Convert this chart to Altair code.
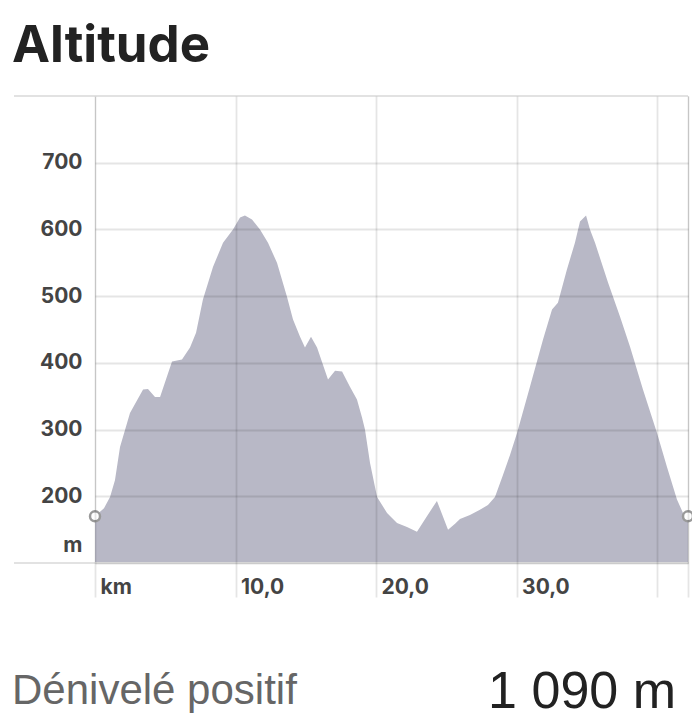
import altair as alt
import pandas as pd

# Elevation profile (km, m)
km = [0.00, 0.64, 1.07, 1.42, 1.78, 2.49, 3.42, 3.77, 4.27, 4.63, 5.48, 6.19, 6.76, 7.19,
      7.68, 8.40, 9.11, 9.82, 10.32, 10.67, 11.17, 11.74, 12.31, 12.95, 13.66, 14.09, 14.59,
      14.94, 15.37, 15.80, 16.58, 17.08, 17.58, 18.14, 18.64, 19.00, 19.21, 19.57, 20.07,
      20.78, 21.49, 22.20, 22.91, 23.55, 24.33, 25.12, 25.62, 25.97, 26.68, 27.39, 27.96,
      28.46, 29.03, 29.53, 30.03, 30.95, 31.88, 32.52, 32.94, 33.58, 34.15, 34.51, 34.94,
      35.22, 35.58, 36.51, 37.36, 38.07, 38.99, 39.99, 40.70, 41.41, 41.84, 42.195]
alt_m = [170, 182, 199, 224, 274, 325, 360, 361, 349, 349, 402, 405, 423, 445,
         495, 544, 580, 600, 618, 621, 615, 600, 580, 550, 499, 465, 439,
         423, 439, 423, 375, 388, 387, 364, 345, 318, 300, 250, 199,
         175, 160, 154, 147, 168, 193, 150, 159, 166, 172, 180, 187,
         199, 232, 262, 295, 364, 435, 480, 490, 540, 580, 612, 621,
         600, 580, 520, 469, 424, 360, 295, 244, 195, 175, 170]

x_ticks = [0, 10, 20, 30, 40, 42.195]
y_ticks = [100, 200, 300, 400, 500, 600, 700]
frame_levels = [100, 800]

stat_label = "Dénivelé positif"
stat_value = "1 090 m"

df = pd.DataFrame({"km": km, "alt": alt_m})
ends = df.iloc[[0, -1]]
frame_df = pd.DataFrame({"lvl": frame_levels})
stat_df = pd.DataFrame({"label": [stat_label], "value": [stat_value]})

W, H = 593, 467

xscale = alt.Scale(domain=[0, 42.195], nice=False, zero=False)
yscale = alt.Scale(domain=[100, 800], nice=False, zero=False)

xaxis = alt.Axis(
    values=x_ticks, title=None, grid=True, domain=False, ticks=True, tickSize=34,
    tickColor="black", tickOpacity=0.1, tickWidth=1.8,
    gridColor="black", gridOpacity=0.1, gridWidth=1.8,
    labelAlign="left", labelBaseline="alphabetic", labelPadding=-4, labelOffset=5,
    labelFont="Inter", labelFontSize=21, labelFontWeight="bold", labelColor="#444",
    labelExpr="datum.value == 0 ? 'km' : (datum.value >= 40 ? '' : replace(format(datum.value, '.1f'), '.', ','))",
    zindex=1,
)
yaxis = alt.Axis(
    values=y_ticks, title=None, grid=True, domain=False, ticks=False, labelPadding=13,
    gridColor="black", gridOpacity=0.1, gridWidth=1.8,
    labelFont="Inter", labelFontSize=21, labelFontWeight="bold", labelColor="#444",
    labelExpr="datum.value == 100 ? 'm' : datum.label",
    labelOffset={"condition": {"test": "datum.value == 100", "value": -18}, "value": 0},
    zindex=1,
)

area = alt.Chart(df).mark_area(color="#b8b8c6", opacity=1).encode(
    x=alt.X("km:Q", scale=xscale, axis=xaxis),
    y=alt.Y("alt:Q", scale=yscale, axis=yaxis),
    y2=alt.datum(100),
)

frame = alt.Chart(frame_df).mark_rule(color="#e2e2e2", strokeWidth=1.8).encode(
    y=alt.Y("lvl:Q", scale=yscale, axis=yaxis),
    x=alt.value(-81), x2=alt.value(W),
)

pts = alt.Chart(ends).mark_point(filled=True, fill="white", stroke="#9a9a9a",
                                 strokeWidth=2.5, size=100, opacity=1).encode(
    x=alt.X("km:Q", scale=xscale, axis=xaxis),
    y=alt.Y("alt:Q", scale=yscale, axis=yaxis),
)

lbl = alt.Chart(stat_df).mark_text(align="left", baseline="alphabetic", font="Liberation Sans",
                                   fontSize=42, color="#666").encode(
    text="label:N", x=alt.value(-83), y=alt.value(608),
)
val = alt.Chart(stat_df).mark_text(align="right", baseline="alphabetic", font="Liberation Sans",
                                   fontSize=52, color="#222").encode(
    text="value:N", x=alt.value(581), y=alt.value(612),
)

chart = alt.layer(area, frame, pts, lbl, val).properties(
    width=W, height=H,
    title=alt.TitleParams(text="Altitude", anchor="start", frame="group", dx=-83, dy=51,
                          offset=33, baseline="alphabetic", fontSize=51, font="Inter",
                          fontWeight="bold", color="#222"),
    autosize=alt.AutoSizeParams(type="none"),
    padding={"left": 87, "top": 88, "right": 4, "bottom": 160},
).configure_view(stroke=None).configure(background="white")

chart.save("out.html", embed_options={"renderer": "svg", "actions": False})
